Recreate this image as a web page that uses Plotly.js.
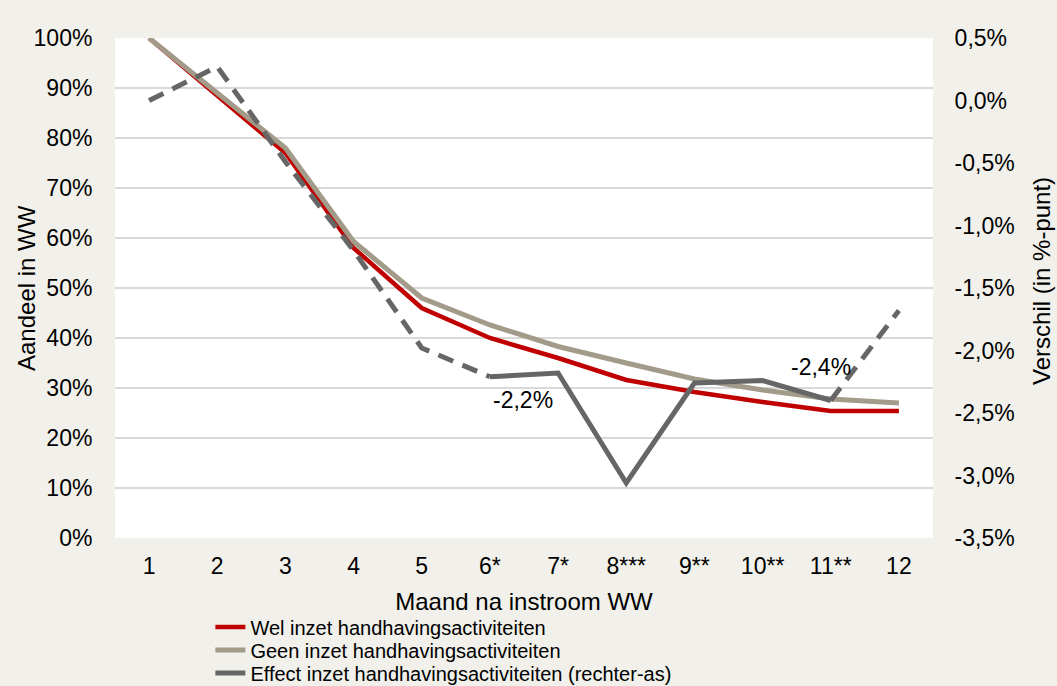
<!DOCTYPE html>
<html>
<head>
<meta charset="utf-8">
<script src="https://cdn.plot.ly/plotly-3.0.1.min.js"></script>
<style>html,body{margin:0;padding:0;background:#f1f0ea;}#chart{width:1057px;height:686px;}</style>
</head>
<body>
<div id="chart"></div>
<script>
const months = ['1','2','3','4','5','6*','7*','8***','9**','10**','11**','12'];
const wel = [1.00, 0.885, 0.77, 0.58, 0.46, 0.40, 0.36, 0.316, 0.292, 0.272, 0.254, 0.254];
const geen = [1.00, 0.89, 0.78, 0.593, 0.48, 0.426, 0.383, 0.35, 0.318, 0.296, 0.278, 0.27];
const effect = [0.00, 0.27, -0.49, -1.20, -1.98, -2.21, -2.18, -3.06, -2.26, -2.24, -2.40, -1.68];
const significant = [false,false,false,false,false,true,true,true,true,true,true,false];
const leftTicks = [0,0.1,0.2,0.3,0.4,0.5,0.6,0.7,0.8,0.9,1.0];
const leftLabels = ['0%','10%','20%','30%','40%','50%','60%','70%','80%','90%','100%'];
const rightTicks = [-3.5,-3.0,-2.5,-2.0,-1.5,-1.0,-0.5,0.0,0.5];
const rightLabels = ['-3,5%','-3,0%','-2,5%','-2,0%','-1,5%','-1,0%','-0,5%','0,0%','0,5%'];
const labels = [{i:5, text:'-2,2%'}, {i:10, text:'-2,4%'}];
const leftTitle = 'Aandeel in WW';
const rightTitle = 'Verschil (in %-punt)';
const xTitle = 'Maand na instroom WW';

const RED = '#c00000', TAN = '#a39b89', GRAY = '#666666';

// split effect series into solid (significant) and dashed segments
function segment(solid) {
  const n = effect.length;
  return effect.map((v, i) => {
    const a = significant[i];
    const prev = i > 0 ? significant[i-1] : null;
    const next = i < n-1 ? significant[i+1] : null;
    if (solid) return a && (prev === true || next === true) ? v : null;
    return (!a || prev === false || next === false) ? v : null;
  });
}
const dashedVals = segment(false);
const solidVals = segment(true);

const FAM = 'Liberation Sans, Arial, sans-serif';
const font = {family:FAM, size:23, color:'#000'};
const tfont = {family:FAM, size:24, color:'#000'};
const lfont = {family:FAM, size:20, color:'#000'};

const traces = [
  {x: months, y: wel, type:'scatter', mode:'lines', name:'Wel inzet handhavingsactiviteiten',
   line:{color:RED, width:4.5}, legend:'legend'},
  {x: months, y: geen, type:'scatter', mode:'lines', name:'Geen inzet handhavingsactiviteiten',
   line:{color:TAN, width:5}, legend:'legend2'},
  {x: months, y: dashedVals, type:'scatter', mode:'lines', yaxis:'y2', showlegend:false,
   connectgaps:false, line:{color:GRAY, width:5, dash:'16px,10px'}},
  {x: months, y: solidVals, type:'scatter', mode:'lines', yaxis:'y2', name:'Effect inzet handhavingsactiviteiten (rechter-as)',
   connectgaps:false, line:{color:GRAY, width:5}, legend:'legend3'}
];

function leg(y) {
  return {x:0.1166, y:y, xanchor:'left', yanchor:'middle', bgcolor:'rgba(0,0,0,0)',
          font:lfont, itemwidth:30};
}

const layout = {
  width:1057, height:686,
  paper_bgcolor:'#f1f0ea', plot_bgcolor:'#ffffff',
  margin:{l:115, r:124, t:38, b:148, autoexpand:false},
  font: font,
  showlegend:true,
  legend: leg(-0.178),
  legend2: leg(-0.224),
  legend3: leg(-0.270),
  xaxis:{type:'category', categoryorder:'array', categoryarray: months, range:[-0.5, 11.5],
         showgrid:false, zeroline:false, showline:false,
         ticks:'outside', ticklen:7, tickcolor:'rgba(0,0,0,0)',
         tickfont:font,
         title:{text:xTitle, font:tfont, standoff:15}},
  yaxis:{range:[0,1], tickvals:leftTicks, ticktext:leftLabels, showgrid:true,
         gridcolor:'#d9d9d9', gridwidth:1.5, zeroline:false, showline:false,
         ticks:'outside', ticklen:17, tickcolor:'rgba(0,0,0,0)', tickfont:font},
  yaxis2:{range:[-3.5,0.5], overlaying:'y', side:'right', tickvals:rightTicks, ticktext:rightLabels,
          showgrid:false, zeroline:false, showline:false,
          ticks:'outside', ticklen:16, tickcolor:'rgba(0,0,0,0)', tickfont:font},
  annotations: [
    {x: months[labels[0].i], y: effect[labels[0].i], xref:'x', yref:'y2', text: labels[0].text,
     showarrow:false, xshift:33, yshift:-23, font:font},
    {x: months[labels[1].i], y: effect[labels[1].i], xref:'x', yref:'y2', text: labels[1].text,
     showarrow:false, xshift:-10, yshift:34, font:font},
    {x:-0.1088, y:0.5, xref:'paper', yref:'paper', text:leftTitle, textangle:-90,
     showarrow:false, xanchor:'center', yanchor:'middle', font:tfont},
    {x:1.132, y:0.514, xref:'paper', yref:'paper', text:rightTitle, textangle:-90,
     showarrow:false, xanchor:'center', yanchor:'middle', font:tfont}
  ]
};

Plotly.newPlot('chart', traces, layout, {displayModeBar:false, staticPlot:true});
</script>
</body>
</html>
